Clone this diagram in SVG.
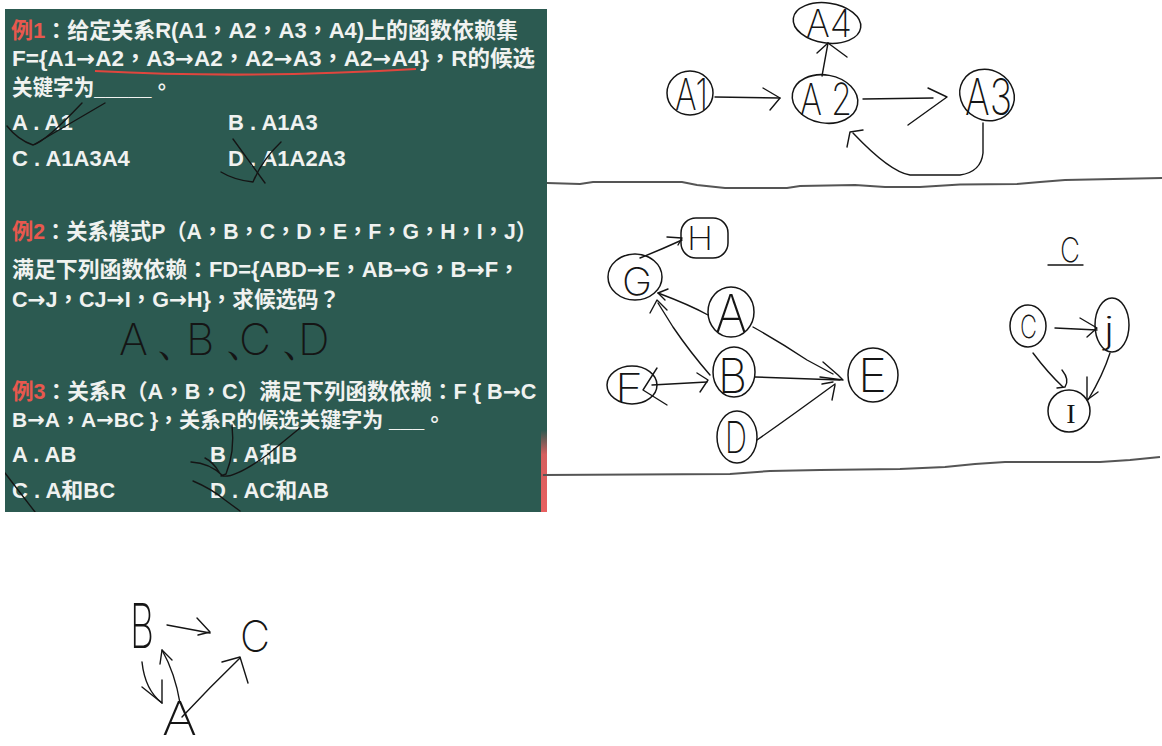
<svg xmlns="http://www.w3.org/2000/svg" width="1162" height="746" viewBox="0 0 1162 746">
<defs>
<style>
.t{font-family:"Liberation Sans","Noto Sans CJK TC",sans-serif;font-size:22px;font-weight:bold;fill:#f0f2f0}
.a{font-family:"DejaVu Sans",sans-serif}
.r{fill:#e8584e}
.h{font-family:"Inter","Lato","DejaVu Sans",sans-serif;font-weight:200;fill:#151515}
.s{fill:none;stroke:#151515;stroke-width:1.4;stroke-linecap:round;stroke-linejoin:round}
.n{fill:none;stroke:#151515;stroke-width:1.5}
.div{fill:none;stroke:#555;stroke-width:2}
</style>
<linearGradient id="rg" x1="0" y1="0" x2="0" y2="1">
<stop offset="0" stop-color="#e86060" stop-opacity="0"/>
<stop offset="0.3" stop-color="#e86060" stop-opacity="0.9"/>
<stop offset="1" stop-color="#e86060"/>
</linearGradient>
<clipPath id="pc"><rect x="5" y="9" width="542" height="503"/></clipPath>
</defs>
<rect width="1162" height="746" fill="#fff"/>

<g id="slide" clip-path="url(#pc)">
<rect x="5" y="9" width="542" height="503" fill="#2c5a51"/>
<rect x="541" y="430" width="6" height="82" fill="url(#rg)"/>
<text class="t" x="11" y="38" textLength="507" lengthAdjust="spacingAndGlyphs"><tspan class="r">例1</tspan>：给定关系R(A1，A2，A3，A4)上的函数依赖集</text>
<text class="t" x="12" y="66" textLength="523" lengthAdjust="spacingAndGlyphs">F={A1<tspan class="a">→</tspan>A2，A3<tspan class="a">→</tspan>A2，A2<tspan class="a">→</tspan>A3，A2<tspan class="a">→</tspan>A4}，R的候选</text>
<text class="t" x="12" y="95" textLength="160" lengthAdjust="spacingAndGlyphs">关键字为_____。</text>
<text class="t" x="12" y="130">A . A1</text>
<text class="t" x="228" y="130">B . A1A3</text>
<text class="t" x="12" y="166">C . A1A3A4</text>
<text class="t" x="228" y="166">D . A1A2A3</text>
<path d="M95,71 Q250,79 416,69" fill="none" stroke="#e0463e" stroke-width="2.2"/>

<text class="t" x="12" y="239" textLength="525" lengthAdjust="spacingAndGlyphs"><tspan class="r">例2</tspan>：关系模式P（A，B，C，D，E，F，G，H，I，J）</text>
<text class="t" x="12" y="277" textLength="508" lengthAdjust="spacingAndGlyphs">满足下列函数依赖：FD={ABD<tspan class="a">→</tspan>E，AB<tspan class="a">→</tspan>G，B<tspan class="a">→</tspan>F，</text>
<text class="t" x="12" y="307" textLength="328" lengthAdjust="spacingAndGlyphs">C<tspan class="a">→</tspan>J，CJ<tspan class="a">→</tspan>I，G<tspan class="a">→</tspan>H}，求候选码？</text>

<text class="t" x="12" y="399" style="font-size:21.6px"><tspan class="r">例3</tspan>：关系R（A，B，C）满足下列函数依赖：F { B<tspan class="a">→</tspan>C</text>
<text class="t" x="12" y="427" style="font-size:21px">B<tspan class="a">→</tspan>A，A<tspan class="a">→</tspan>BC }，关系R的候选关键字为 ___。</text>
<text class="t" x="12" y="462">A . AB</text>
<text class="t" x="210" y="462">B . A和B</text>
<text class="t" x="12" y="498">C . A和BC</text>
<text class="t" x="210" y="498">D . AC和AB</text>

<g id="marks">
<path class="s" d="M7,126 Q18,140 33,145 Q45,142 82,103"/>
<path class="s" d="M35,144 L105,103"/>
<path class="s" d="M233,139 L265,183"/>
<path class="s" d="M221,172 Q234,180 253,182 Q262,160 281,142"/>
<path class="s" d="M232,425 Q235,452 226,474 L221,476"/>
<path class="s" d="M191,462 Q210,463 223,476 Q235,478 267,455 L300,428"/>
<path class="s" d="M205,458 Q213,462 219,472"/>
<path class="s" d="M193,481 Q212,489 225,500 L240,511"/>
<path class="s" d="M5,473 L35,512"/>
</g>
<text class="h" font-size="44" x="119 155 186 224 239 280 298" y="355">A、B、C、D</text>
</g>

<path class="div" d="M547,183 L580,184 L593,182 L682,182 L697,185 L725,188 L787,188 L800,186 L855,185 L885,187 L920,187 L960,184.5 L1017,184 L1040,182 L1065,180 L1162,178"/>
<path class="div" d="M543,475 L730,474 L770,471 L820,470 L900,469 L945,467 L975,464 L1005,462 L1100,462 L1130,460 L1160,457"/>

<g id="nodeA4"><ellipse class="n" cx="827" cy="23" rx="34" ry="20" transform="rotate(8 827 23)"/><text class="h" font-size="38" x="806" y="37" textLength="46" lengthAdjust="spacingAndGlyphs">A4</text></g>
<g id="nodeA1"><ellipse class="n" cx="690" cy="93" rx="23" ry="22"/><text class="h" font-size="44" x="675" y="110" textLength="33" lengthAdjust="spacingAndGlyphs">A1</text></g>
<g id="nodeA2"><ellipse class="n" cx="825" cy="99" rx="33" ry="24" transform="rotate(10 825 99)"/><text class="h" font-size="44" x="800" y="115" textLength="52" lengthAdjust="spacingAndGlyphs">A 2</text></g>
<g id="nodeA3"><ellipse class="n" cx="987" cy="95" rx="28" ry="25" transform="rotate(30 987 95)"/><text class="h" font-size="50" x="965" y="115" textLength="47" lengthAdjust="spacingAndGlyphs">A3</text></g>

<g id="nodeH"><rect class="n" x="681" y="218" width="47" height="40" rx="15"/><text class="h" font-size="32" x="687" y="250" textLength="26" lengthAdjust="spacingAndGlyphs">H</text></g>
<g id="nodeG"><ellipse class="n" cx="635" cy="277" rx="27" ry="23"/><text class="h" font-size="38" x="622" y="295" textLength="30" lengthAdjust="spacingAndGlyphs">G</text></g>
<g id="nodeA"><ellipse class="n" cx="731" cy="312" rx="23" ry="25"/><text class="h" font-size="52" x="715" y="332" textLength="32" lengthAdjust="spacingAndGlyphs">A</text></g>
<g id="nodeB"><ellipse class="n" cx="734" cy="372" rx="21" ry="25"/><text class="h" font-size="48" x="718" y="393" textLength="29" lengthAdjust="spacingAndGlyphs">B</text></g>
<g id="nodeF"><ellipse class="n" cx="632" cy="385" rx="25" ry="19"/><path class="s" d="M657,368 L643,390 L667,405"/><text class="h" font-size="40" x="615" y="402" textLength="28" lengthAdjust="spacingAndGlyphs">F</text></g>
<g id="nodeE"><ellipse class="n" cx="873" cy="375" rx="25" ry="27"/><text class="h" font-size="46" x="858" y="392" textLength="29" lengthAdjust="spacingAndGlyphs">E</text></g>
<g id="nodeD"><ellipse class="n" cx="737" cy="437" rx="20" ry="26"/><text class="h" font-size="44" x="725" y="453" textLength="22" lengthAdjust="spacingAndGlyphs">D</text></g>

<text class="h" font-size="34" x="1060" y="262" textLength="20" lengthAdjust="spacingAndGlyphs">C</text>
<path class="s" d="M1048,265 L1083,265"/>
<g id="nodeC"><ellipse class="n" cx="1028" cy="326" rx="18" ry="21"/><text class="h" font-size="32" x="1020" y="338" textLength="17" lengthAdjust="spacingAndGlyphs">C</text></g>
<g id="nodeJ"><ellipse class="n" cx="1112" cy="325" rx="17" ry="27"/><text class="h" font-size="36" x="1103" y="343" textLength="12" lengthAdjust="spacingAndGlyphs">j</text></g>
<g id="nodeI"><ellipse class="n" cx="1069" cy="411" rx="21" ry="21"/><text font-family="Liberation Serif" font-size="28" fill="#151515" x="1071" y="423" text-anchor="middle">I</text></g>

<g id="nodeB3"><text class="h" font-size="62" x="130" y="648" textLength="24" lengthAdjust="spacingAndGlyphs">B</text></g>
<g id="nodeC3"><text class="h" font-size="44" x="240" y="652" textLength="30" lengthAdjust="spacingAndGlyphs">C</text></g>
<g id="nodeA3b"><text class="h" font-size="46" x="162" y="735" textLength="35" lengthAdjust="spacingAndGlyphs">A</text></g>

<g id="connectors">
<path class="s" d="M715,97 L780,98"/><path class="s" d="M763,88 L780,98 L770,110"/>
<path class="s" d="M822,76 L828,43"/><path class="s" d="M817,53 L828,43 L847,57"/>
<path class="s" d="M863,99 L933,98"/><path class="s" d="M928,88 L947,97 L908,125"/>
<path class="s" d="M983,123 L983,153 Q981,172 960,175 L910,175 Q890,172 853,133"/><path class="s" d="M847,147 L850,132 L863,130"/>

<path class="s" d="M640,258 Q660,250 682,240"/><path class="s" d="M667,237 L682,238 L678,245"/>
<path class="s" d="M708,315 Q690,305 658,293"/><path class="s" d="M668,289 L658,293 L665,300"/>
<path class="s" d="M710,375 Q690,352 673,327 L658,303"/><path class="s" d="M650,313 L657,300 L667,310"/>
<path class="s" d="M652,385 L707,382"/><path class="s" d="M697,373 L708,380 L700,392"/>
<path class="s" d="M753,327 Q780,342 807,360 L833,374"/>
<path class="s" d="M755,377 L840,380"/>
<path class="s" d="M757,440 Q790,417 835,384"/>
<path class="s" d="M823,362 L838,375 L843,380 L820,377"/><path class="s" d="M833,382 L822,384"/><path class="s" d="M835,385 L832,400"/>

<path class="s" d="M1055,328 L1097,330"/><path class="s" d="M1080,318 L1097,328 L1087,337"/>
<path class="s" d="M1033,353 Q1048,373 1063,387"/><path class="s" d="M1062,370 Q1070,380 1065,387 L1057,388"/>
<path class="s" d="M1110,353 Q1103,375 1088,400"/><path class="s" d="M1087,377 L1087,400 L1098,392"/>

<path class="s" d="M167,625 L210,633"/><path class="s" d="M197,618 L210,632 L198,635"/>
<path class="s" d="M142,662 Q145,690 162,703"/><path class="s" d="M142,687 L162,703 L162,680"/>
<path class="s" d="M180,703 Q175,673 162,650"/><path class="s" d="M160,664 L162,650 L172,660"/>
<path class="s" d="M182,717 Q210,687 240,658"/><path class="s" d="M222,662 L240,657 L248,683"/>
</g>
</svg>
